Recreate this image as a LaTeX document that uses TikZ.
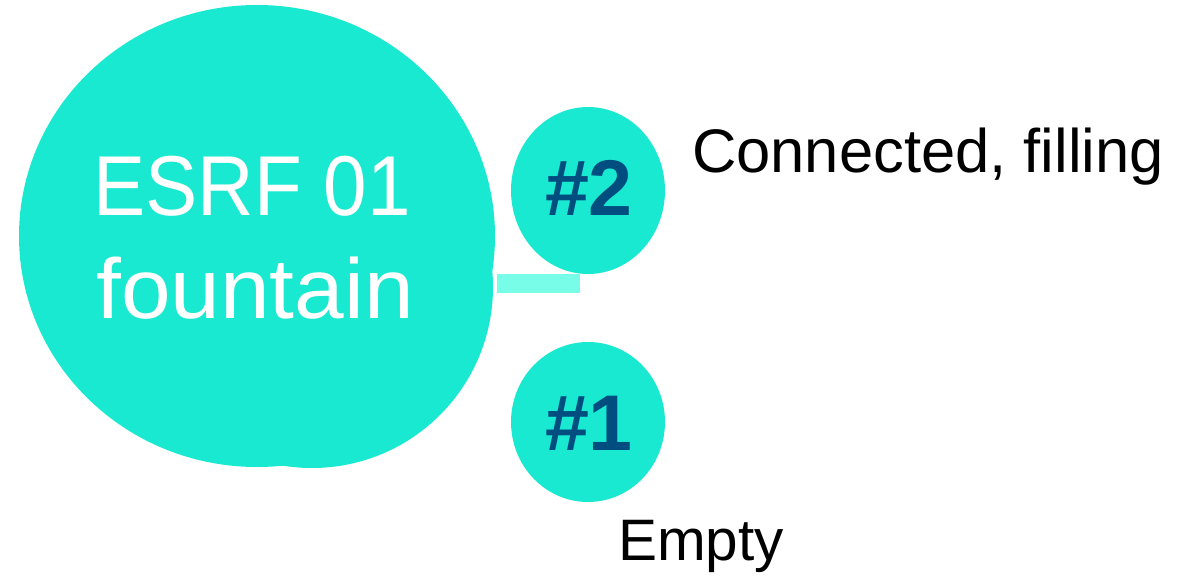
\documentclass[tikz,border=0pt]{standalone}
\usepackage{fontspec}
\setmainfont{Liberation Sans}
\usetikzlibrary{shapes.geometric}
\definecolor{aqua}{HTML}{1AE9D2}
\definecolor{aqualight}{HTML}{78FDE9}
\definecolor{navy}{HTML}{004E80}
\tikzset{
  lbl/.style={inner sep=0pt, anchor=base},
  white label/.style={lbl, text=white, font=\fontsize{85}{90}\selectfont},
  slot/.style={ellipse, fill=aqua, inner sep=0pt, minimum width=154pt},
  slot label/.style={lbl, text=navy, font=\bfseries\fontsize{79}{84}\selectfont},
  caption/.style={inner sep=0pt, anchor=base west, text=black}
}
\begin{document}
\begin{tikzpicture}[x=1pt, y=-1pt]
  \useasboundingbox (0,0) rectangle (1178,577);
  % fountain body: a main disc with a second lobe at the lower right
  \fill[aqua] (312,287) circle[radius=181];
  \node[ellipse, fill=aqua, inner sep=0pt, minimum width=476pt, minimum height=462pt] (fountain) at (257,236) {};
  \node[white label] (nameA) at (252,216) {\scalebox{0.92}[1]{ESRF 01}};
  \node[white label] (nameB) at (255,319) {\scalebox{1.05}[1]{fountain}};
  % slots
  \node[slot, minimum height=167pt] (s2) at (588,190.5) {};
  \node[slot, minimum height=160pt] (s1) at (588,422) {};
  \node[slot label] (s2t) at (589,216) {\#2};
  \node[slot label] (s1t) at (589,450) {\#1};
  % connection between the fountain and slot 2
  \node[fill=aqualight, inner sep=0pt, minimum width=83pt, minimum height=19pt, anchor=west] (link) at (497,283.5) {};
  % states
  \node[caption, font=\fontsize{61.5}{66}\selectfont] (st2) at (692,173) {Connected, filling};
  \node[caption, font=\fontsize{58.5}{62}\selectfont] (st1) at (618,560) {Empty};
\end{tikzpicture}
\end{document}
